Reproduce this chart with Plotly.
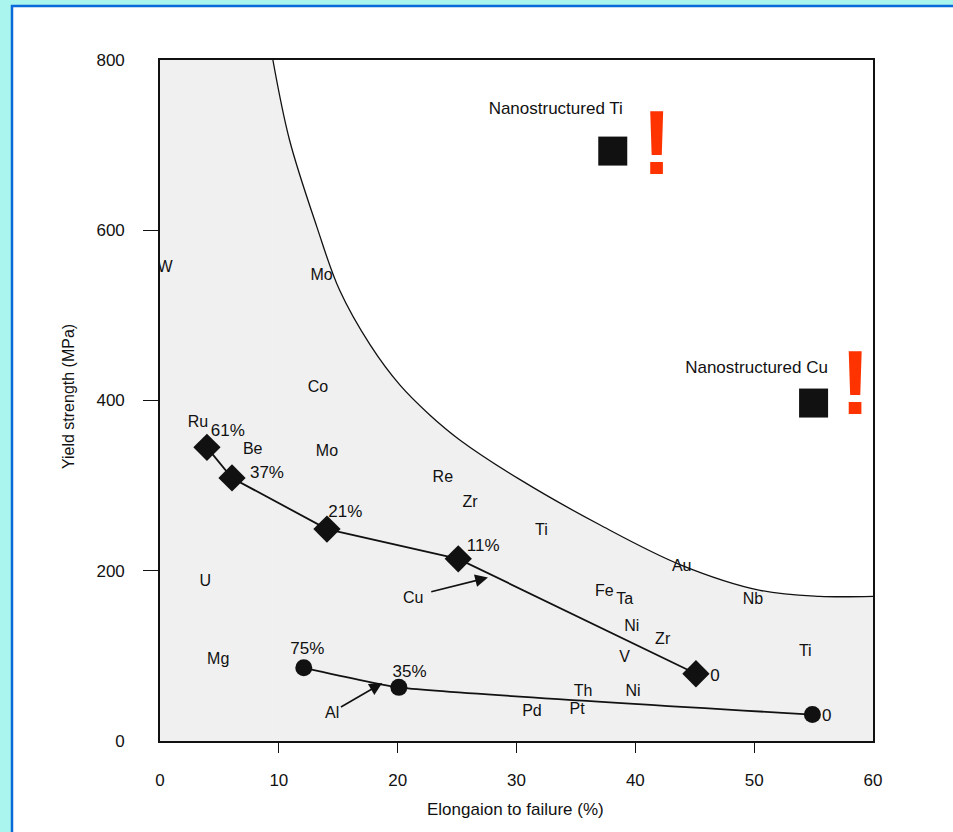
import plotly.graph_objects as go

# ---- data ----
boundary_x = [9.5, 10.9, 13.2, 15.1, 17.7, 20.2, 22.7, 25.2, 30.3, 37.0, 43.8, 50.5, 55.5, 60.0]
boundary_y = [800, 706, 604, 530, 465, 418, 383, 354, 307, 254, 207, 177, 170, 170]

cu_x = [3.95, 6.06, 14.05, 25.1, 45.1]
cu_y = [345, 309, 249, 214, 79]
cu_labels = ["61%", "37%", "21%", "11%", "0"]
cu_label_x = [5.7, 9.0, 15.6, 27.2, 46.7]
cu_label_y = [363, 314, 268, 228, 76]

al_x = [12.1, 20.1, 54.9]
al_y = [86, 63, 31]
al_labels = ["75%", "35%", "0"]
al_label_x = [12.4, 21.0, 56.1]
al_label_y = [107, 80, 28]

elements = ["W", "Mo", "Co", "Mo", "Ru", "Be", "Re", "Zr", "Ti", "Au", "Nb", "U", "Fe", "Ta",
            "Ni", "Zr", "V", "Ti", "Mg", "Th", "Ni", "Pd", "Pt"]
elem_x = [0.42, 13.6, 13.3, 14.05, 3.2, 7.8, 23.8, 26.1, 32.1, 43.9, 49.9, 3.8, 37.4, 39.1,
          39.7, 42.3, 39.1, 54.3, 4.9, 35.6, 39.8, 31.3, 35.1]
elem_y = [556, 546, 415, 339, 374, 342, 309, 280, 247, 204, 166, 187, 175, 166,
          134, 119, 97, 105, 95, 58, 58, 34, 36]

nano_names = ["Nanostructured Ti", "Nanostructured Cu"]
nano_x = [38.1, 55.0]
nano_y = [693, 397]
nano_label_x = [33.3, 50.2]
nano_label_y = [742, 437]
bang_x = [41.8, 58.5]
bang_y = [693, 410]

x_ticks = [0, 10, 20, 30, 40, 50, 60]
x_minor = [10, 20, 30, 40, 50]
y_ticks = [0, 200, 400, 600, 800]
y_minor = [200, 400, 600]

FONT = "Liberation Sans, Arial, Helvetica, sans-serif"
GREY = "#f0f0f0"

fig = go.Figure()

# grey region (below the boundary)
fig.add_trace(go.Scatter(x=[0, boundary_x[0]], y=[800, 800], mode="lines",
                         line=dict(width=0, color=GREY), fill="tozeroy",
                         fillcolor=GREY, hoverinfo="skip", showlegend=False))
fig.add_trace(go.Scatter(x=boundary_x, y=boundary_y, mode="lines",
                         line=dict(color="#111111", width=1.3, shape="spline", smoothing=1.0),
                         fill="tozeroy", fillcolor=GREY, showlegend=False))

# Cu series
fig.add_trace(go.Scatter(x=cu_x, y=cu_y, mode="lines+markers",
                         line=dict(color="#111111", width=1.8),
                         marker=dict(symbol="diamond", size=21, color="#111111"),
                         showlegend=False))
fig.add_trace(go.Scatter(x=cu_label_x, y=cu_label_y, mode="text", text=cu_labels,
                         textfont=dict(family=FONT, size=17, color="#111111"),
                         showlegend=False))

# Al series
fig.add_trace(go.Scatter(x=al_x, y=al_y, mode="lines+markers",
                         line=dict(color="#111111", width=1.8, shape="spline", smoothing=0.4),
                         marker=dict(symbol="circle", size=17, color="#111111"),
                         showlegend=False))
fig.add_trace(go.Scatter(x=al_label_x, y=al_label_y, mode="text", text=al_labels,
                         textfont=dict(family=FONT, size=17, color="#111111"),
                         showlegend=False))

# element labels
fig.add_trace(go.Scatter(x=elem_x, y=elem_y, mode="text", text=elements,
                         textfont=dict(family=FONT, size=16, color="#111111"),
                         showlegend=False))

# nanostructured squares
fig.add_trace(go.Scatter(x=nano_x, y=nano_y, mode="markers",
                         marker=dict(symbol="square", size=29, color="#111111"),
                         showlegend=False))
fig.add_trace(go.Scatter(x=nano_label_x, y=nano_label_y, mode="text", text=nano_names,
                         textfont=dict(family=FONT, size=17, color="#111111"),
                         showlegend=False))
fig.add_trace(go.Scatter(x=bang_x, y=bang_y, mode="text", text=["!", "!"],
                         textfont=dict(family="Liberation Sans, Arial, sans-serif", size=90,
                                       color="#ff3300", weight="bold"),
                         showlegend=False))

annotations = [
    dict(x=27.6, y=192, ax=22.7, ay=175, xref="x", yref="y", axref="x", ayref="y",
         text="", showarrow=True, arrowhead=2, arrowsize=1.6, arrowwidth=1.6, arrowcolor="#111111"),
    dict(x=21.3, y=169, xref="x", yref="y", text="Cu", showarrow=False,
         font=dict(family=FONT, size=16, color="#111111")),
    dict(x=18.7, y=68, ax=15.1, ay=39, xref="x", yref="y", axref="x", ayref="y",
         text="", showarrow=True, arrowhead=2, arrowsize=1.6, arrowwidth=1.6, arrowcolor="#111111"),
    dict(x=14.5, y=33, xref="x", yref="y", text="Al", showarrow=False,
         font=dict(family=FONT, size=16, color="#111111")),
    dict(x=0.499, y=-0.1013, xref="paper", yref="paper", text="Elongaion to failure (%)",
         showarrow=False, font=dict(family=FONT, size=17, color="#111111"), yanchor="middle"),
    dict(x=-0.129, y=0.505, xref="paper", yref="paper", text="Yield strength (MPa)",
         showarrow=False, textangle=-90, font=dict(family=FONT, size=16, color="#111111"),
         xanchor="center", yanchor="middle"),
]

shapes = [
    dict(type="rect", xref="paper", yref="paper", x0=(12 - 160) / 713, x1=1.3,
         y0=-0.3, y1=(741 - 6) / 681, fillcolor="white",
         line=dict(color="#0a6ad8", width=2.5), layer="below"),
]

fig.update_layout(
    width=953, height=832,
    margin=dict(l=160, r=80, t=60, b=91, pad=0),
    paper_bgcolor="#aaf6ef",
    plot_bgcolor="white",
    font=dict(family=FONT, size=17, color="#111111"),
    showlegend=False,
    annotations=annotations,
    shapes=shapes,
    xaxis=dict(range=[0, 60], tickvals=x_ticks, ticks="", showgrid=False, zeroline=False,
               showline=True, mirror=True, linecolor="#111111", linewidth=1.6,
               tickfont=dict(family=FONT, size=17, color="#111111"), ticklabelstandoff=23,
               minor=dict(tickvals=x_minor, ticks="outside", ticklen=10, tickcolor="#111111",
                          tickwidth=1.4, showgrid=False)),
    yaxis=dict(range=[0, 800], tickvals=y_ticks, ticks="", showgrid=False, zeroline=False,
               showline=True, mirror=True, linecolor="#111111", linewidth=1.6,
               tickfont=dict(family=FONT, size=17, color="#111111"), ticklabelstandoff=30,
               minor=dict(tickvals=y_minor, ticks="outside", ticklen=15, tickcolor="#111111",
                          tickwidth=1.4, showgrid=False)),
)

fig.write_html("out.html", config={"displayModeBar": False},
               post_script="document.body.style.margin='0';document.body.style.overflow='hidden';")
